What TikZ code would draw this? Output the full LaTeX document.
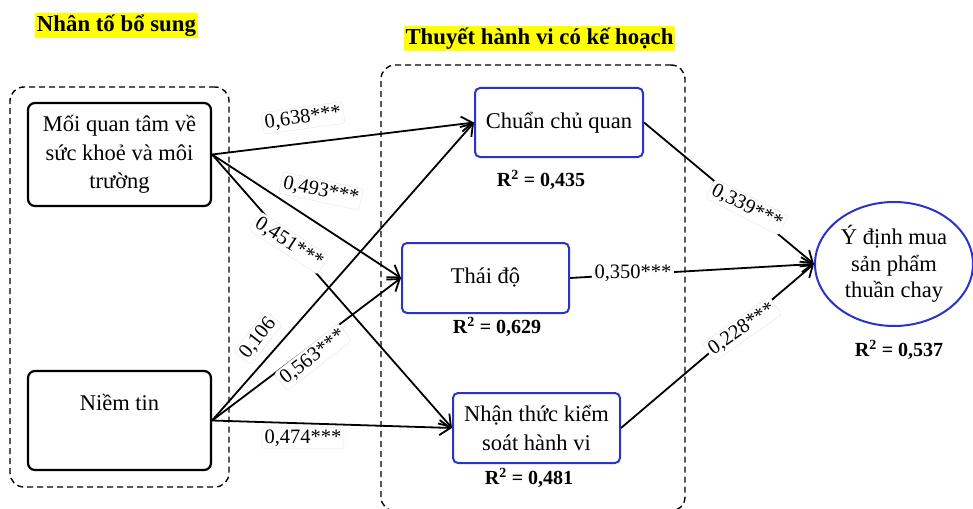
\documentclass[tikz,border=0pt]{standalone}
\usepackage{fontspec}
\setmainfont{Liberation Serif}
\usetikzlibrary{arrows.meta,shapes.geometric}
\definecolor{boxblue}{RGB}{40,50,205}
\definecolor{hl}{RGB}{255,255,0}
\begin{document}
\begin{tikzpicture}[x=1pt,y=-1pt,
 every node/.style={font=\fontsize{22.5}{28.5}\selectfont},
 blackbox/.style={draw, line width=2.2pt, rounded corners=7pt, align=center, inner sep=0pt, minimum width=183pt},
 bluebox/.style={draw=boxblue, line width=2pt, rounded corners=5pt, align=center, inner sep=0pt, minimum height=70pt},
 grp/.style={draw, dash pattern=on 6pt off 4pt, line width=1.4pt, rounded corners=14pt, inner sep=0pt},
 titlebox/.style={fill=hl, font=\bfseries\fontsize{22.8}{27}\selectfont, inner sep=2pt},
 coef/.style={fill=white, draw=gray!20, rounded corners=3pt, font=\fontsize{20.5}{24}\selectfont, inner sep=2.5pt},
 rsq/.style={font=\bfseries\fontsize{20}{24}\selectfont},
 conn/.style={line width=1.8pt, -{Straight Barb[length=11pt,width=15pt]}}
]
\useasboundingbox (0,0) rectangle (973,508);

% group frames
\node[grp, minimum width=219pt, minimum height=400pt] (G1) at (119.5,287) {};
\node[grp, minimum width=304pt, minimum height=446pt] (G2) at (533,288) {};

% titles
\node[titlebox] (T1) at (116.5,25.5) {Nhân tố bổ sung};
\node[titlebox] (T2) at (539.5,38.5) {Thuyết hành vi có kế hoạch};

% nodes
\node[blackbox, minimum height=103pt] (M) at (119.5,154.5) {Mối quan tâm về\\sức khoẻ và môi\\trường};
\node[blackbox, minimum height=99pt] (N) at (119.5,420.5) {Niềm tin\\\strut};
\node[bluebox, minimum width=168pt, minimum height=69pt] (C) at (559,122.5) {Chuẩn chủ quan};
\node[bluebox, minimum width=167pt] (A) at (485.5,278) {Thái độ};
\node[bluebox, minimum width=167pt] (P) at (536.5,428) {Nhận thức kiểm\\soát hành vi};
\node[ellipse, draw=boxblue, line width=2pt, minimum width=158pt, minimum height=124pt, inner sep=0pt, align=center, font=\fontsize{22.5}{26.5}\selectfont] (Y) at (894,264) {Ý định mua\\sản phẩm\\thuần chay};

% R2
\node[rsq] (R1) at (541,180) {R\textsuperscript{2} = 0,435};
\node[rsq] (R2) at (497,327) {R\textsuperscript{2} = 0,629};
\node[rsq] (R3) at (529,478) {R\textsuperscript{2} = 0,481};
\node[rsq] (R4) at (899,350) {R\textsuperscript{2} = 0,537};

% connectors
\draw[conn] (M.east) -- (C.west);
\draw[conn] (M.east) -- (A.west);
\draw[conn] (M.east) -- (P.west);
\draw[conn] (N.east) -- (C.west);
\draw[conn] (N.east) -- (A.west);
\draw[conn] (N.east) -- (P.west);
\draw[conn] (C.east) -- (Y.west);
\draw[conn] (A.east) -- (Y.west);
\draw[conn] (P.east) -- (Y.west);

% coefficients
\node[coef, rotate=8] (L1) at (303,118) {0,638***};
\node[coef, rotate=-12] (L2) at (321,191) {0,493***};
\node[coef, rotate=-33] (L3) at (289,243) {0,451***};
\node[coef, rotate=52] (L4) at (258,338) {0,106};
\node[coef, rotate=38] (L5) at (313,357) {0,563***};
\node[coef] (L6) at (303,438) {0,474***};
\node[coef, rotate=-27] (L7) at (747,207) {0,339***};
\node[coef, draw=none] (L8) at (633,273) {0,350***};
\node[coef, rotate=35] (L9) at (742,329) {0,228***};
\end{tikzpicture}
\end{document}
